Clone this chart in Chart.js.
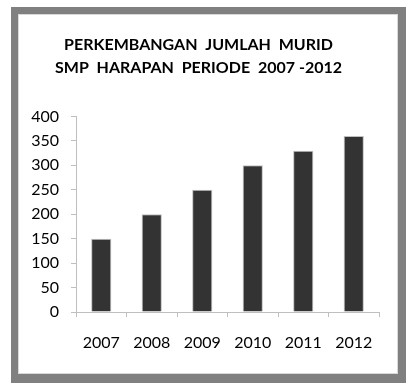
<!DOCTYPE html>
<html>
<head>
<meta charset="utf-8">
<script src="https://cdn.jsdelivr.net/npm/chart.js@4"></script>
<style>
  html, body { margin: 0; padding: 0; background: #ffffff; }
  #frame {
    position: absolute; left: 11px; top: 7px;
    width: 380px; height: 360px;
    border-style: solid; border-color: #808080;
    border-width: 7px 8px 9px 7px;
    background: #ffffff;
  }
  #inner {
    position: absolute; left: 0; top: 0; width: 378px; height: 358px;
    border: 1px solid #d9d9d9;
  }
  #c { position: absolute; left: 0; top: 0; }
</style>
</head>
<body>
<div id="frame"><div id="inner"></div><canvas id="c" width="380" height="360"></canvas></div>
<script>
const titleLines = ["PERKEMBANGAN  JUMLAH  MURID", "SMP  HARAPAN  PERIODE  2007 -2012"];
const years = ["2007", "2008", "2009", "2010", "2011", "2012"];
const students = [150, 200, 250, 300, 330, 360];
const yTicks = [0, 50, 100, 150, 200, 250, 300, 350, 400];

const axisGray = '#bfbfbf';
new Chart(document.getElementById('c'), {
  type: 'bar',
  data: {
    labels: years,
    datasets: [{
      data: students,
      backgroundColor: '#333333',
      borderColor: '#bfbfbf',
      borderWidth: 1,
      barPercentage: 0.4,
      categoryPercentage: 1.0
    }]
  },
  options: {
    responsive: false,
    animation: false,
    layout: { padding: { left: 0, right: 19, top: 0, bottom: 0 } },
    plugins: {
      legend: { display: false },
      tooltip: { enabled: false },
      title: {
        display: true,
        text: titleLines,
        color: '#000000',
        font: { family: 'Lato', size: 16, weight: 'bold', lineHeight: 1.45 },
        padding: { top: 19, bottom: 37 }
      }
    },
    scales: {
      x: {
        grid: { display: true, drawOnChartArea: false, drawTicks: true, tickLength: 5, color: axisGray, offset: true },
        border: { color: axisGray },
        ticks: { color: '#000000', font: { family: 'Lato', size: 16 }, padding: 16, maxRotation: 0 },
        afterFit: s => { s.height = 62; }
      },
      y: {
        min: 0, max: 400,
        afterBuildTicks: s => { s.ticks = yTicks.map(v => ({ value: v })); },
        grid: { display: true, drawOnChartArea: false, drawTicks: true, tickLength: 5, color: axisGray },
        border: { color: axisGray },
        ticks: { color: '#000000', font: { family: 'Lato', size: 16 }, padding: 12 },
        afterFit: s => { s.width = 58; }
      }
    }
  }
});
</script>
</body>
</html>
